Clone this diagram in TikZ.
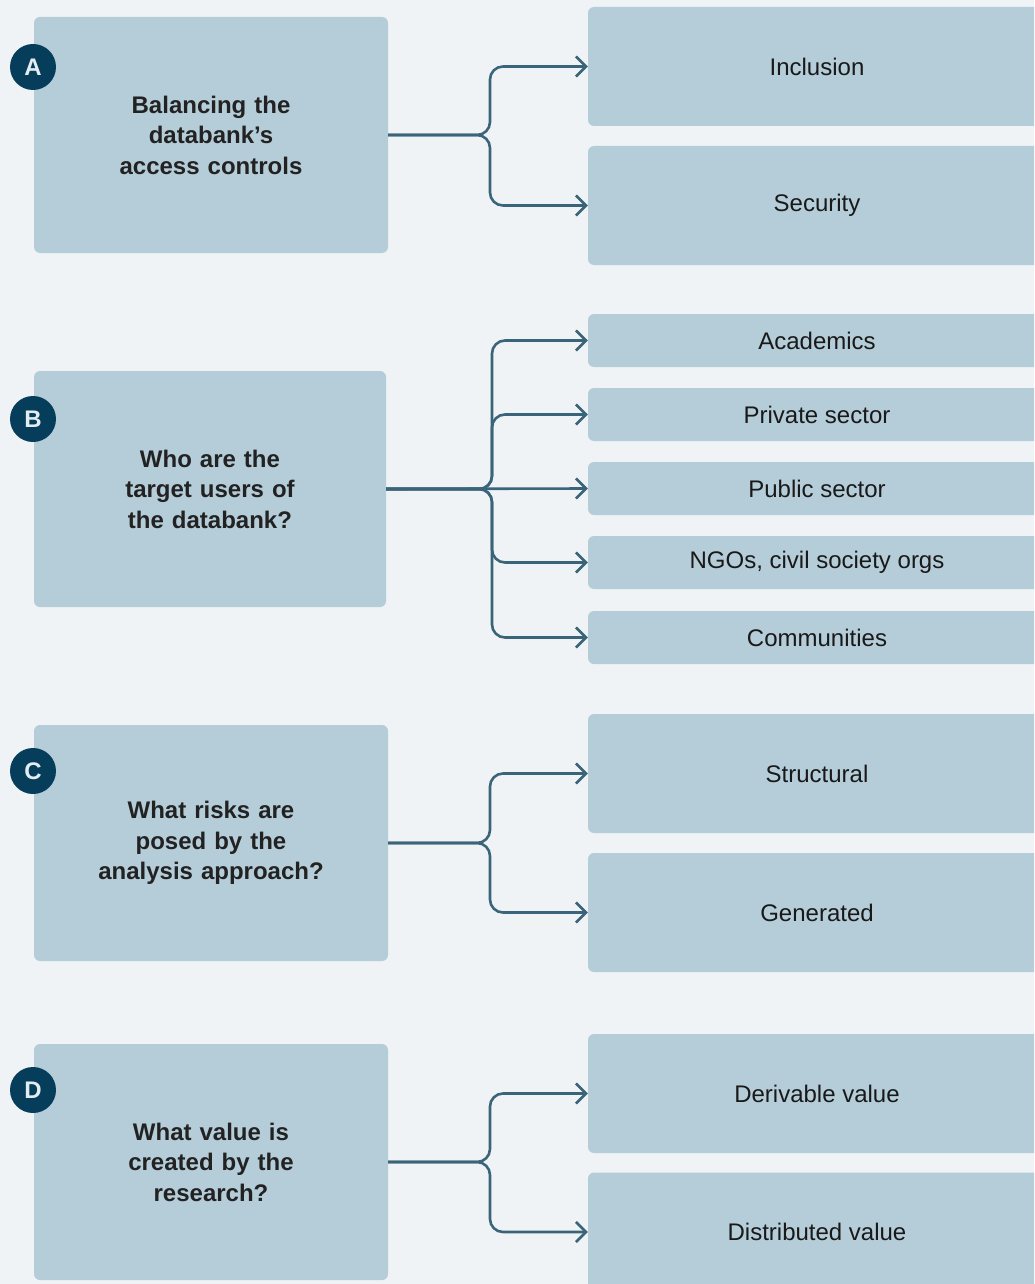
\documentclass[tikz,border=0pt]{standalone}
\usepackage{fontspec}
\setmainfont{Liberation Sans}
\usetikzlibrary{arrows.meta}
\definecolor{pagebg}{HTML}{EFF3F6}
\definecolor{boxfill}{HTML}{B5CDD9}
\definecolor{badgefill}{HTML}{063D5A}
\definecolor{badgetext}{HTML}{E2ECF1}
\definecolor{linkcol}{HTML}{3A6479}
\definecolor{txtdark}{HTML}{222222}
\begin{document}
\begin{tikzpicture}[x=1pt,y=-1pt,
  question/.style={fill=boxfill, rounded corners=6pt, minimum width=354pt, minimum height=236pt,
    inner sep=0pt, align=center, text width=230pt, text=txtdark,
    font=\fontsize{24}{30.5}\selectfont\bfseries},
  tallopt/.style={fill=boxfill, rounded corners=6pt, minimum width=458pt, minimum height=119pt,
    inner sep=0pt, text=black!90, font=\fontsize{24}{30}\selectfont},
  shortopt/.style={tallopt, minimum height=53pt},
  badge/.style={circle, fill=badgefill, minimum size=46pt, inner sep=0pt, text=badgetext,
    font=\fontsize{24}{24}\selectfont\bfseries},
  link/.style={draw=linkcol, line width=2.6pt, rounded corners=13pt,
    -{Straight Barb[length=10pt,width=20pt,line width=2.6pt]}},
]
\useasboundingbox (0,0) rectangle (1034,1284);
\fill[pagebg] (0,0) rectangle (1034,1284);
\clip (0,0) rectangle (1034,1284);

% --- Block A ---
\node[question] (qa) at (211,135) {Balancing the\\databank’s\\access controls};
\node[badge] (ba) at (33,67) {A};
\node[tallopt] (inc) at (817,66.5) {Inclusion};
\node[tallopt] (sec) at (817,205.5) {Security};
\draw[link] (qa.east) -- (490,135) |- (inc.west);
\draw[link] (qa.east) -- (490,135) |- (sec.west);

% --- Block B ---
\node[question, minimum width=352pt] (qb) at (210,489) {Who are the\\target users of\\the databank?};
\node[badge] (bb) at (33,419) {B};
\node[shortopt] (aca) at (817,340.5) {Academics};
\node[shortopt] (pri) at (817,414.5) {Private sector};
\node[shortopt] (pub) at (817,488.5) {Public sector};
\node[shortopt] (ngo) at (817,562.5) {NGOs, civil society orgs};
\node[shortopt] (com) at (817,637.5) {Communities};
\draw[link] (qb.east) -- (492,489) |- (aca.west);
\draw[link] (qb.east) -- (492,489) |- (pri.west);
\draw[link, rounded corners=0pt] (qb.east) -- (pub.west);
\draw[link] (qb.east) -- (492,489) |- (ngo.west);
\draw[link] (qb.east) -- (492,489) |- (com.west);

% --- Block C ---
\node[question] (qc) at (211,843) {What risks are\\posed by the\\analysis approach?};
\node[badge] (bc) at (33,771) {C};
\node[tallopt] (str) at (817,773.5) {Structural};
\node[tallopt] (gen) at (817,912.5) {Generated};
\draw[link] (qc.east) -- (490,843) |- (str.west);
\draw[link] (qc.east) -- (490,843) |- (gen.west);

% --- Block D ---
\node[question] (qd) at (211,1162) {What value is\\created by the\\research?};
\node[badge] (bd) at (33,1090) {D};
\node[tallopt] (der) at (817,1093.5) {Derivable value};
\node[tallopt] (dis) at (817,1232) {Distributed value};
\draw[link] (qd.east) -- (490,1162) |- (der.west);
\draw[link] (qd.east) -- (490,1162) |- (dis.west);
\end{tikzpicture}
\end{document}
